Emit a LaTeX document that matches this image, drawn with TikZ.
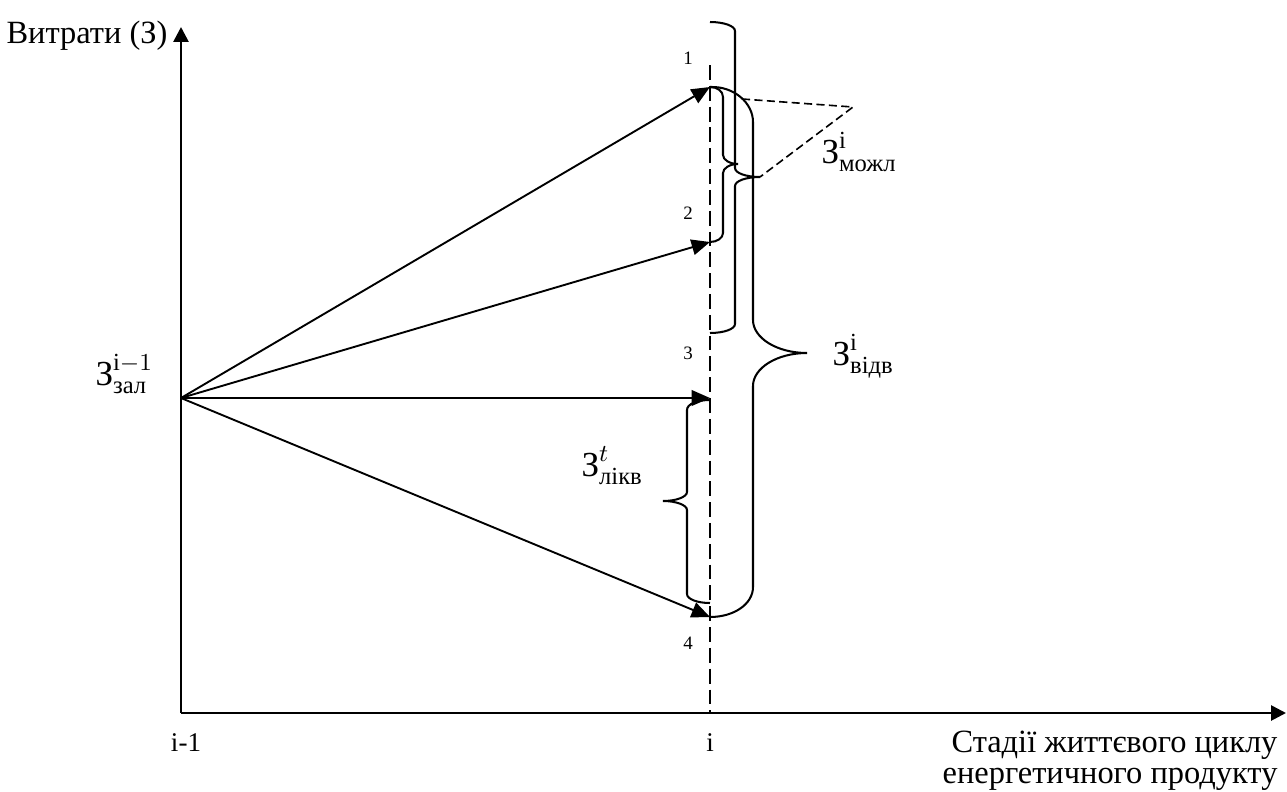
\documentclass[tikz,border=0pt]{standalone}
\usepackage{amsmath}
\usepackage{fontspec}
\setmainfont{Liberation Serif}
\usetikzlibrary{arrows.meta}

\begin{document}
\begin{tikzpicture}[x=0.013cm, y=-0.013cm,
    axis/.style={-{Triangle[length=5.5pt,width=5.5pt]}, line width=1pt},
    arr/.style={-{Triangle[length=6.8pt,width=5.8pt]}, line width=0.7pt},
    brc/.style={line width=0.75pt},
    guide/.style={dash pattern=on 5.5pt off 2.2pt, line width=0.75pt},
    hint/.style={dash pattern=on 3pt off 1.6pt, line width=0.6pt},
    axlab/.style={font=\fontsize{12}{14}\selectfont, inner sep=0pt},
    stlab/.style={font=\fontsize{10}{12}\selectfont, inner sep=0pt},
    ptlab/.style={font=\fontsize{7}{8}\selectfont, inner sep=0pt},
    mlab/.style={font=\fontsize{13}{15}\selectfont, inner sep=0pt}
]
\useasboundingbox (0,0) rectangle (1287,791);

% Axes
\coordinate (O)    at (181,713);
\coordinate (yend) at (181,27);
\coordinate (xend) at (1286,713);
\draw[axis] (O) -- (yend);
\draw[axis] (O) -- (xend);

\node[axlab, anchor=base east] (ylab)  at (168,43)   {Витрати (З)};
\node[axlab, anchor=base east] (xlab1) at (1278,752) {Стадії життєвого циклу};
\node[axlab, anchor=base east] (xlab2) at (1278,783) {енергетичного продукту};
\node[stlab, anchor=base] (tim1) at (186,751) {i-1};
\node[stlab, anchor=base] (ti)   at (710,751) {i};

% Stage i guide line
\coordinate (dtop) at (710,65);
\coordinate (dbot) at (710,713);
\draw[guide] (dtop) -- (dbot);

% Cost points
\coordinate (src) at (181,398);
\coordinate (p1)  at (710,87);
\coordinate (p2)  at (710,242);
\coordinate (p3)  at (710,398);
\coordinate (p4)  at (710,617);

\node[ptlab] (n1) at (688,58)  {1};
\node[ptlab] (n2) at (688,213) {2};
\node[ptlab] (n3) at (688,353) {3};
\node[ptlab] (n4) at (688,643) {4};

\draw[arr] (src) -- (p1);
\draw[arr] (src) -- (p2);
\draw[arr] (src) -- (p3);
\draw[arr] (src) -- (p4);

% Braces
\draw[brc] (710,22) .. controls (724,22) and (735,26) .. (735,31) -- (735,168)
    .. controls (735,173) and (746,177) .. (760,177)
    .. controls (746,177) and (735,181) .. (735,186) -- (735,324)
    .. controls (735,329) and (724,333) .. (710,333);
\draw[brc] (p1) .. controls (717,87) and (723,91) .. (723,97) -- (723,155)
    .. controls (723,160) and (730,164) .. (738,164)
    .. controls (730,164) and (723,168) .. (723,173) -- (723,233)
    .. controls (723,238) and (717,242) .. (p2);
\draw[brc] (p1) .. controls (734,86) and (753,103) .. (753,122) -- (753,320)
    .. controls (753,338) and (777,353) .. (807,353)
    .. controls (777,353) and (753,368) .. (753,386) -- (753,587)
    .. controls (753,604) and (734,617) .. (p4);
\draw[brc] (710,400) .. controls (697,400) and (687,404) .. (687,410) -- (687,492)
    .. controls (687,497) and (676,501) .. (663,501)
    .. controls (676,501) and (687,505) .. (687,510) -- (687,594)
    .. controls (687,599) and (697,603) .. (710,603);

% Possible-cost callout
\coordinate (c1) at (742,99);
\coordinate (c2) at (853,107);
\coordinate (c3) at (760,177);
\draw[hint] (c1) -- (c2) -- (c3);

% Cost labels
\node[mlab, anchor=west] (zal)   at (95,374)  {$\text{З}^{\text{i}-1}_{\text{зал}}$};
\node[mlab, anchor=west] (mozhl) at (821,152) {$\text{З}^{\text{i}}_{\text{можл}}$};
\node[mlab, anchor=west] (vidv)  at (832,356) {$\text{З}^{\text{i}}_{\text{відв}}$};
\node[mlab, anchor=west] (likv)  at (581,466) {$\text{З}^{t}_{\text{лікв}}$};
\end{tikzpicture}
\end{document}
